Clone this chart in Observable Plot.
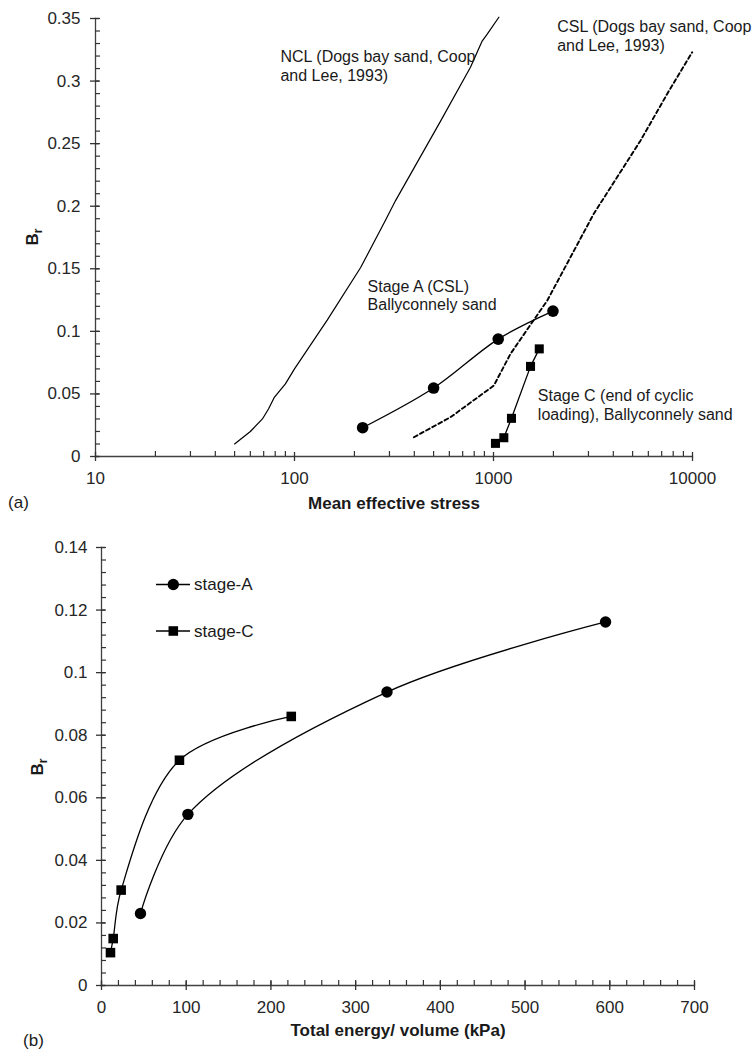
<!DOCTYPE html>
<html>
<head>
<meta charset="utf-8">
<script src="https://cdn.jsdelivr.net/npm/d3@7"></script>
<script src="https://cdn.jsdelivr.net/npm/@observablehq/plot@0.6"></script>
<style>
  body { margin: 0; background: #fff; font-family: "Liberation Sans", Arial, sans-serif; }
  #wrap { position: relative; width: 752px; height: 1050px; }
  #top { position: absolute; left: 0; top: 0; }
  #bot { position: absolute; left: 0; top: 520px; }
  #legend { position: absolute; left: 0; top: 0; }
</style>
</head>
<body>
<div id="wrap"><div id="top"></div><div id="bot"></div><svg id="legend" width="752" height="1050" style="pointer-events:none"></svg></div>
<script>
// ---------- DATA ----------
// (a) NCL, Dogs bay sand (Coop and Lee, 1993)
const nclStress = [50, 60, 69, 74, 79, 90, 100, 146, 215, 287, 322, 542, 766, 877, 930, 1064];
const nclBr     = [0.010, 0.020, 0.030, 0.038, 0.047, 0.058, 0.070, 0.109, 0.151, 0.189, 0.2045, 0.268, 0.311, 0.332, 0.3375, 0.351];
// (a) CSL, Dogs bay sand (Coop and Lee, 1993)
const cslStress = [398, 608, 1004, 1217, 1862, 3191, 5478, 7459, 9960];
const cslBr     = [0.0154, 0.0314, 0.0567, 0.082, 0.1246, 0.194, 0.2524, 0.2897, 0.323];
// Stage A and Stage C, Ballyconnely sand
const stageAStress = [220, 500, 1056, 1990];
const stageCStress = [1023, 1127, 1231, 1535, 1698];
const stageABr = [0.023, 0.0547, 0.0938, 0.1162];
const stageCBr = [0.0105, 0.015, 0.0305, 0.072, 0.086];
// (b) total energy / volume (kPa)
const stageAEnergy = [46, 102, 337, 595];
const stageCEnergy = [10.6, 13.8, 23.2, 92, 224];

// tick labels
const xTicksTop = [10, 100, 1000, 10000];
const yTicksTop = [0, 0.05, 0.1, 0.15, 0.2, 0.25, 0.3, 0.35];
const xTicksBot = [0, 100, 200, 300, 400, 500, 600, 700];
const yTicksBot = [0, 0.02, 0.04, 0.06, 0.08, 0.1, 0.12, 0.14];

// texts
const xLabelTop = "Mean effective stress";
const xLabelBot = "Total energy/ volume (kPa)";
const panelA = "(a)";
const panelB = "(b)";
const seriesNames = ["stage-A", "stage-C"];
const annoText = [
  "NCL (Dogs bay sand, Coop\nand Lee, 1993)",
  "CSL (Dogs bay sand, Coop\nand Lee, 1993)",
  "Stage A (CSL)\nBallyconnely sand",
  "Stage C (end of cyclic\nloading), Ballyconnely sand"
];
const annoX = [85, 2089, 233, 1670];
const annoY = [0.3124, 0.3363, 0.1292, 0.0414];

// ---------- BUILD ----------
const zip = (xs, ys) => xs.map((x, i) => ({x, y: ys[i]}));
const ncl = zip(nclStress, nclBr);
const csl = zip(cslStress, cslBr);
const aTop = zip(stageAStress, stageABr);
const cTop = zip(stageCStress, stageCBr);
const aBot = zip(stageAEnergy, stageABr);
const cBot = zip(stageCEnergy, stageCBr);
const annos = annoText.map((t, i) => ({t, x: annoX[i], y: annoY[i]}));

const xDomTop = [10, 10000], yDomTop = [0, 0.35];
const xDomBot = [0, 700], yDomBot = [0, 0.14];
const xMinorTop = [];
for (const d of [10, 100, 1000]) for (let k = 2; k <= 9; k++) xMinorTop.push(d * k);
const yMinorTop = d3.range(0, 36).map(i => i / 100);
const xMinorBot = d3.range(0, 701, 20);
const yMinorBot = d3.range(0, 36).map(i => i * 0.004);

const axisColor = "#404040";
const tickColor = "#333333";
const fmt = d => String(d);
const baseStyle = {fontFamily: "'Liberation Sans', Arial, sans-serif", fontSize: "17px", color: "#262626", background: "white", overflow: "visible"};

// axis lines, major ticks crossing the axis, minor ticks inside
function tickMarks(xMaj, xMin, yMaj, yMin) {
  return [
    Plot.frame({anchor: "left", stroke: axisColor, strokeWidth: 1.3}),
    Plot.frame({anchor: "bottom", stroke: axisColor, strokeWidth: 1.3}),
    Plot.axisY({ticks: yMaj, anchor: "left", tickSize: 9, dx: 4, fill: "none", label: null, stroke: tickColor, strokeWidth: 1.3}),
    Plot.axisY({ticks: yMin, anchor: "left", tickSize: 5, dx: 5, fill: "none", label: null, stroke: tickColor, strokeWidth: 1.2}),
    Plot.axisX({ticks: xMaj, anchor: "bottom", tickSize: 9, dy: -4, fill: "none", label: null, stroke: tickColor, strokeWidth: 1.3}),
    Plot.axisX({ticks: xMin, anchor: "bottom", tickSize: 5, dy: -5, fill: "none", label: null, stroke: tickColor, strokeWidth: 1.2})
  ];
}

const T = {width: 752, height: 500, marginLeft: 95, marginRight: 60, marginTop: 18, marginBottom: 44};
const topPlot = Plot.plot({
  ...T,
  style: baseStyle,
  x: {type: "log", domain: xDomTop},
  y: {domain: yDomTop},
  marks: [
    ...tickMarks(xTicksTop, xMinorTop, yTicksTop, yMinorTop),
    Plot.axisY({ticks: yTicksTop, tickSize: 0, tickPadding: 15, tickFormat: fmt, label: null, fontSize: 17}),
    Plot.axisX({ticks: xTicksTop, tickSize: 0, tickPadding: 15, tickFormat: fmt, label: null, fontSize: 17}),
    Plot.line(ncl, {x: "x", y: "y", stroke: "black", strokeWidth: 1.2}),
    Plot.line(csl, {x: "x", y: "y", stroke: "black", strokeWidth: 1.9, strokeDasharray: "4,3"}),
    Plot.line(aTop, {x: "x", y: "y", stroke: "black", strokeWidth: 1.3, curve: "catmull-rom"}),
    Plot.line(cTop, {x: "x", y: "y", stroke: "black", strokeWidth: 1.3}),
    Plot.dot(aTop, {x: "x", y: "y", fill: "black", r: 5.8}),
    Plot.dot(cTop, {x: "x", y: "y", fill: "black", symbol: "square", r: 5.1}),
    Plot.text(annos, {x: "x", y: "y", text: "t", textAnchor: "start", lineAnchor: "middle", lineHeight: 1.15, fontSize: 16, fill: "#1a1a1a"}),
    Plot.text([xLabelTop], {frameAnchor: "bottom", dy: 47, lineAnchor: "middle", fontWeight: "bold", fontSize: 17, fill: "#1a1a1a"}),
    Plot.text([panelA], {frameAnchor: "bottom-left", dx: -77, dy: 46, textAnchor: "middle", lineAnchor: "middle", fontSize: 17, fill: "#1a1a1a"})
  ]
});
document.getElementById("top").appendChild(topPlot);

const B = {width: 752, height: 530, marginLeft: 101, marginRight: 58, marginTop: 27, marginBottom: 65};
const botPlot = Plot.plot({
  ...B,
  style: baseStyle,
  x: {domain: xDomBot},
  y: {domain: yDomBot},
  marks: [
    ...tickMarks(xTicksBot, xMinorBot, yTicksBot, yMinorBot),
    Plot.axisY({ticks: yTicksBot, tickSize: 0, tickPadding: 14, tickFormat: fmt, label: null, fontSize: 17}),
    Plot.axisX({ticks: xTicksBot, tickSize: 0, tickPadding: 15, tickFormat: fmt, label: null, fontSize: 17}),
    Plot.line(aBot, {x: "x", y: "y", stroke: "black", strokeWidth: 1.3, curve: "catmull-rom"}),
    Plot.line(cBot, {x: "x", y: "y", stroke: "black", strokeWidth: 1.3, curve: "catmull-rom"}),
    Plot.dot(aBot, {x: "x", y: "y", fill: "black", r: 5.7}),
    Plot.dot(cBot, {x: "x", y: "y", fill: "black", symbol: "square", r: 5.4}),
    Plot.text([xLabelBot], {frameAnchor: "bottom", dy: 45, lineAnchor: "middle", fontWeight: "bold", fontSize: 17, fill: "#1a1a1a"}),
    Plot.text([panelB], {frameAnchor: "bottom-left", dx: -68, dy: 55, textAnchor: "middle", lineAnchor: "middle", fontSize: 17, fill: "#1a1a1a"})
  ]
});
document.getElementById("bot").appendChild(botPlot);

// B_r y-axis labels with subscript
function addBr(svg, x, y) {
  const t = d3.select(svg).append("text")
    .attr("transform", `translate(${x},${y}) rotate(-90)`)
    .attr("text-anchor", "middle")
    .attr("font-weight", "bold")
    .attr("font-size", 17)
    .attr("fill", "#1a1a1a");
  t.append("tspan").text("B");
  t.append("tspan").attr("font-size", 12).attr("dy", 4).text("r");
}
addBr(topPlot, 38, 237);
addBr(botPlot, 42.5, 247);

// legend for (b)
const lg = d3.select("#legend");
const legendRows = [{name: seriesNames[0], sym: d3.symbolCircle, size: Math.PI * 5.7 * 5.7, y: 584.5},
                    {name: seriesNames[1], sym: d3.symbolSquare, size: Math.PI * 5.4 * 5.4, y: 631}];
legendRows.forEach(r => {
  lg.append("line").attr("x1", 156).attr("x2", 190).attr("y1", r.y).attr("y2", r.y).attr("stroke", "black").attr("stroke-width", 1.3);
  lg.append("path").attr("d", d3.symbol(r.sym, r.size)()).attr("transform", `translate(173.3,${r.y})`).attr("fill", "black");
  lg.append("text").attr("x", 194).attr("y", r.y).attr("dy", "0.35em").attr("font-size", 17)
    .attr("font-family", "'Liberation Sans', Arial, sans-serif").attr("fill", "#1a1a1a").text(r.name);
});
</script>
</body>
</html>
